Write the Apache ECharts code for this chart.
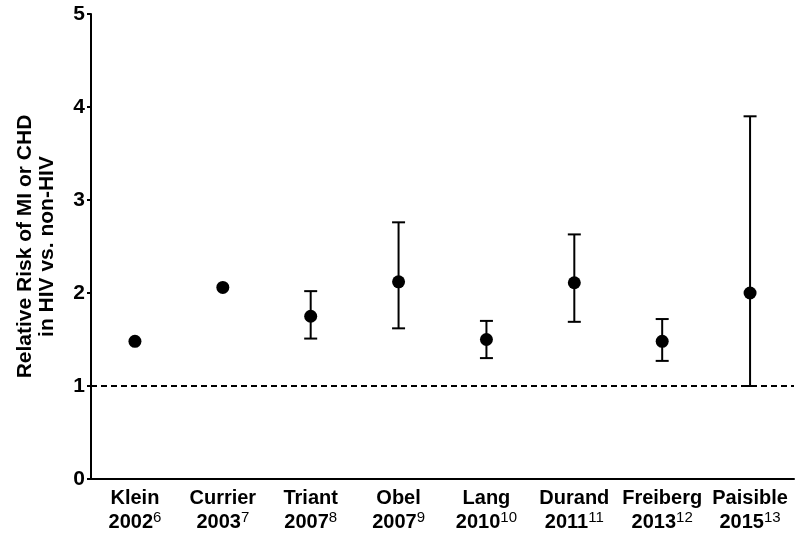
<!DOCTYPE html>
<html><head><meta charset="utf-8">
<script src="https://cdn.jsdelivr.net/npm/echarts@6/dist/echarts.min.js"></script>
<style>html,body{margin:0;padding:0;background:#fff}#c{width:800px;height:539px}</style>
</head><body><div id="c"></div>
<script>
const categories = ['Klein','Currier','Triant','Obel','Lang','Durand','Freiberg','Paisible'];
const years = ['2002','2003','2007','2007','2010','2011','2013','2015'];
const refs = ['6','7','8','9','10','11','12','13'];
const relRisk = [1.48,2.06,1.75,2.12,1.50,2.11,1.48,2.00];
const lower = [null,null,1.51,1.62,1.30,1.69,1.27,1.00];
const upper = [null,null,2.02,2.76,1.70,2.63,1.72,3.90];
const yTicks = [0,1,2,3,4,5];
const refLine = 1;

const FONT = '"Liberation Sans", Arial, sans-serif';
const errData = categories.map((c,i)=>[i, lower[i], upper[i]]).filter(d=>d[1]!=null);

const chart = echarts.init(document.getElementById('c'), null, {renderer:'canvas'});
chart.setOption({
  animation:false,
  backgroundColor:'#fff',
  grid:{left:91, right:6, top:14, bottom:60},
  xAxis:{
    type:'category', data:categories, boundaryGap:true,
    axisLine:{lineStyle:{color:'#000', width:2}},
    axisTick:{alignWithLabel:true, length:5, lineStyle:{color:'#000', width:2}},
    axisLabel:{
      margin:7, interval:0,
      formatter:(v,i)=>'{b|'+v+'}\n{b|'+years[i]+'}{s|'+refs[i]+'}',
      rich:{
        b:{fontFamily:FONT, fontWeight:'bold', fontSize:20, color:'#000', lineHeight:24},
        s:{fontFamily:FONT, fontSize:15, color:'#000', verticalAlign:'top', lineHeight:12}
      }
    }
  },
  yAxis:{
    type:'value', min:0, max:5, interval:1,
    splitLine:{show:false},
    axisLine:{show:true, lineStyle:{color:'#000', width:2}},
    axisTick:{show:true, length:4, lineStyle:{color:'#000', width:2}},
    axisLabel:{fontFamily:FONT, fontWeight:'bold', fontSize:21, color:'#000', margin:6,
      formatter:v=>yTicks.includes(v)?String(v):''},
    name:'Relative Risk of MI or CHD\nin HIV vs. non-HIV',
    nameLocation:'middle', nameGap:33,
    nameTextStyle:{fontFamily:FONT, fontWeight:'bold', fontSize:21, color:'#000', lineHeight:22}
  },
  series:[
    {
      type:'custom',
      data:errData,
      z:2,
      renderItem:(params, api)=>{
        const x = api.value(0);
        const lo = api.coord([x, api.value(1)]);
        const hi = api.coord([x, api.value(2)]);
        const hw = 6.5;
        const st = {stroke:'#000', lineWidth:2};
        return {type:'group', children:[
          {type:'line', shape:{x1:lo[0], y1:lo[1], x2:hi[0], y2:hi[1]}, style:st},
          {type:'line', shape:{x1:lo[0]-hw, y1:lo[1], x2:lo[0]+hw, y2:lo[1]}, style:st},
          {type:'line', shape:{x1:hi[0]-hw, y1:hi[1], x2:hi[0]+hw, y2:hi[1]}, style:st}
        ]};
      }
    },
    {
      type:'scatter',
      data:relRisk,
      symbol:'circle', symbolSize:13, z:3,
      itemStyle:{color:'#000', opacity:1},
      markLine:{
        silent:true, symbol:['none','none'], label:{show:false},
        lineStyle:{color:'#000', type:[6,4], width:2, opacity:1},
        data:[{yAxis:refLine}]
      }
    }
  ]
});
</script></body></html>
